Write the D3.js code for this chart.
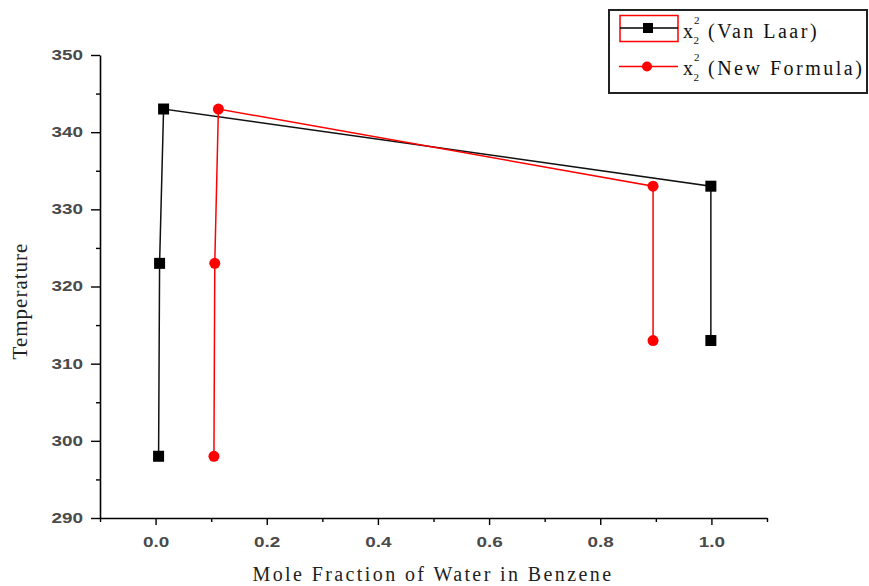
<!DOCTYPE html>
<html><head><meta charset="utf-8">
<script src="https://cdn.jsdelivr.net/npm/d3@7"></script>
<style>body{margin:0;background:#fff}</style>
</head><body>
<svg id="c" width="869" height="586"></svg>
<script>
const vanLaarX = [0.0054, 0.0072, 0.0144, 0.999, 0.999];
const vanLaarT = [298, 323, 343, 333, 313];
const newFormX = [0.105, 0.1065, 0.113, 0.895, 0.895];
const newFormT = [298, 323, 343, 333, 313];
const xTicks = [0.0, 0.2, 0.4, 0.6, 0.8, 1.0];
const yTicks = [290, 300, 310, 320, 330, 340, 350];
const seriesNames = ["(Van Laar)", "(New Formula)"];

const svg = d3.select("#c");
const x = d3.scaleLinear().domain([-0.1, 1.1]).range([100, 767]);
const y = d3.scaleLinear().domain([290, 350]).range([518, 55]);
const SX = 1.35;
const serif = "Liberation Serif, Times New Roman, serif";
const sans = "Liberation Sans, Arial, sans-serif";

// axes
const xAxis = d3.axisBottom(x).tickValues(xTicks).tickFormat(d3.format(".1f")).tickSize(7).tickSizeOuter(0);
const gx = svg.append("g").attr("transform","translate(0,518)").call(xAxis);
const xMinor = d3.axisBottom(x).tickValues([-0.1,0.1,0.3,0.5,0.7,0.9,1.1]).tickFormat("").tickSize(4).tickSizeOuter(0);
svg.append("g").attr("transform","translate(0,518)").call(xMinor).select(".domain").remove();
const yAxis = d3.axisLeft(y).tickValues(yTicks).tickSize(9).tickSizeOuter(0);
const gy = svg.append("g").attr("transform","translate(100,0)").call(yAxis);
const yMinor = d3.axisLeft(y).tickValues(d3.range(295,350,10)).tickFormat("").tickSize(4).tickSizeOuter(0);
svg.append("g").attr("transform","translate(100,0)").call(yMinor).select(".domain").remove();
svg.selectAll(".domain").attr("stroke","#000").attr("stroke-width",1.6);
svg.selectAll(".tick line").attr("stroke","#000").attr("stroke-width",1.4);
gx.selectAll(".tick text").attr("font-family",sans).attr("font-weight","bold").attr("font-size",14).attr("fill","#4a4a4a")
  .attr("y",29).attr("dy",0).attr("transform",`scale(${SX},1)`);
gy.selectAll(".tick text").attr("font-family",sans).attr("font-weight","bold").attr("font-size",14).attr("fill","#4a4a4a")
  .attr("x",-17/SX).attr("transform",`scale(${SX},1)`);

// axis titles
svg.append("text").attr("x",433).attr("y",581).attr("text-anchor","middle")
  .attr("font-family",serif).attr("font-size",20).attr("letter-spacing",2.4).attr("fill","#222")
  .text("Mole Fraction of Water in Benzene");
svg.append("text").attr("transform","translate(27,301) rotate(-90)").attr("text-anchor","middle")
  .attr("font-family",serif).attr("font-size",21).attr("letter-spacing",1).attr("fill","#222")
  .text("Temperature");

const line = d3.line().x(d=>x(d[0])).y(d=>y(d[1]));
const black = vanLaarX.map((v,i)=>[v,vanLaarT[i]]);
const red = newFormX.map((v,i)=>[v,newFormT[i]]);

svg.append("path").datum(black).attr("d",line).attr("fill","none").attr("stroke","#111").attr("stroke-width",1.5);
svg.append("path").datum(red).attr("d",line).attr("fill","none").attr("stroke","#ff0000").attr("stroke-width",1.5);

svg.selectAll(".sq").data(black).enter().append("rect")
  .attr("x",d=>x(d[0])-5.5).attr("y",d=>y(d[1])-5.5).attr("width",11).attr("height",11).attr("fill","#000");
svg.selectAll(".ci").data(red).enter().append("circle")
  .attr("cx",d=>x(d[0])).attr("cy",d=>y(d[1])).attr("r",5.5).attr("fill","#ff0000");

// legend
const lg = svg.append("g");
lg.append("rect").attr("x",609).attr("y",10).attr("width",258).attr("height",83).attr("fill","#fff").attr("stroke","#222").attr("stroke-width",2);
lg.append("rect").attr("x",620).attr("y",15.5).attr("width",58).attr("height",26).attr("fill","none").attr("stroke","#ff0000").attr("stroke-width",1.5);
lg.append("line").attr("x1",620).attr("x2",678).attr("y1",28).attr("y2",28).attr("stroke","#000").attr("stroke-width",1.5);
lg.append("rect").attr("x",643).attr("y",23).attr("width",10).attr("height",10).attr("fill","#000");
lg.append("line").attr("x1",619).attr("x2",678).attr("y1",66.5).attr("y2",66.5).attr("stroke","#ff0000").attr("stroke-width",1.5);
lg.append("circle").attr("cx",647).attr("cy",66.5).attr("r",5).attr("fill","#ff0000");
[38,75].forEach((yy,i)=>{
  const t = lg.append("text").attr("x",683).attr("y",yy)
    .attr("font-family",serif).attr("font-size",20).attr("fill","#111");
  t.append("tspan").text("x");
  t.append("tspan").attr("font-size",11).attr("dy",-14).attr("dx",1).text("2");
  t.append("tspan").attr("font-size",11).attr("dx",-6).attr("dy",20).text("2");
  t.append("tspan").attr("dy",-6).attr("dx",9).attr("letter-spacing",i===0?2.5:2.5).text(seriesNames[i]);
});
</script>
</body></html>
